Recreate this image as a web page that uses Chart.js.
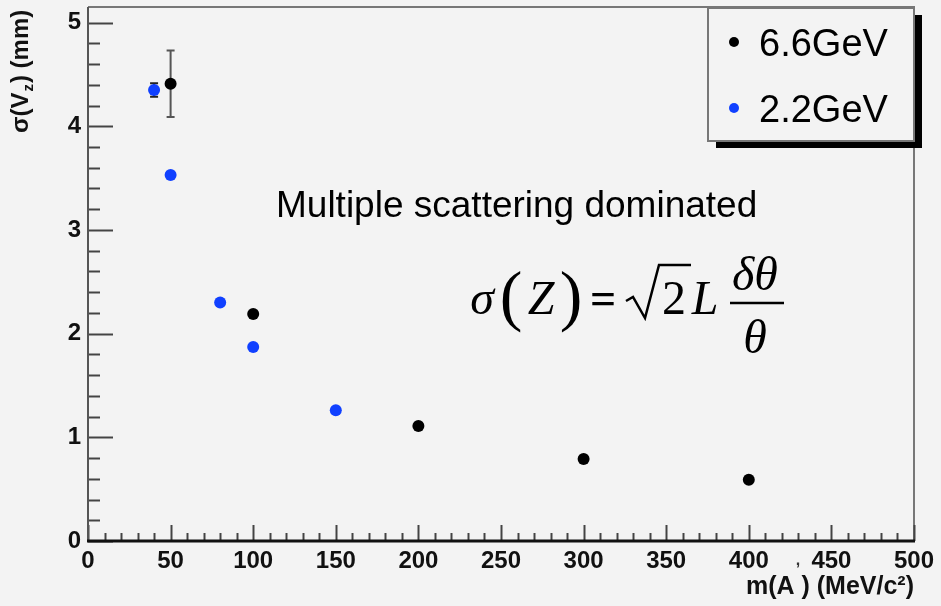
<!DOCTYPE html>
<html>
<head>
<meta charset="utf-8">
<script src="https://cdn.jsdelivr.net/npm/chart.js@4/dist/chart.umd.min.js"></script>
<style>
  html, body { margin: 0; padding: 0; background: #f3f3f3; }
  #wrap { width: 941px; height: 606px; }
</style>
</head>
<body>
<div id="wrap"><canvas id="c" width="941" height="606"></canvas></div>
<script>
// Vertex resolution versus A' mass, two beam energies
const massA_66 = [50, 100, 200, 300, 400];
const sigma_66 = [4.41, 2.19, 1.11, 0.79, 0.59];
const error_66 = [0.32, 0, 0, 0, 0];

const massA_22 = [40, 50, 80, 100, 150];
const sigma_22 = [4.35, 3.53, 2.30, 1.87, 1.26];
const error_22 = [0.065, 0, 0, 0, 0];

const seriesNames = ['6.6GeV', '2.2GeV'];
const xTickStep = 50, xMinorStep = 10, xMin = 0, xMax = 500;
const yTickStep = 1, yMinorStep = 0.2, yMin = 0, yMax = 5.15;

const toPoints = (xs, ys) => xs.map((x, i) => ({ x: x, y: ys[i] }));

// ROOT-style frame, inward ticks, error bars, legend box and annotations
const rootStyle = {
  id: 'rootStyle',
  beforeDatasetsDraw(chart) {
    const { ctx, chartArea: a, scales: { x, y } } = chart;
    ctx.save();
    // frame
    ctx.strokeStyle = '#777';
    ctx.lineWidth = 2;
    ctx.beginPath();
    ctx.moveTo(a.left, a.top); ctx.lineTo(a.right, a.top); ctx.lineTo(a.right, a.bottom);
    ctx.stroke();
    // inward ticks
    ctx.strokeStyle = '#444';
    ctx.lineWidth = 2;
    const xMajorLen = 16, xMinorLen = 8, yMajorLen = 25, yMinorLen = 12;
    for (let v = xMin; v <= xMax + 1e-9; v += xMinorStep) {
      const px = Math.round(x.getPixelForValue(v)) + 0.5;
      const major = Math.abs(v / xTickStep - Math.round(v / xTickStep)) < 1e-6;
      ctx.beginPath();
      ctx.moveTo(px, a.bottom);
      ctx.lineTo(px, a.bottom - (major ? xMajorLen : xMinorLen));
      ctx.stroke();
    }
    for (let v = yMin; v <= yMax + 1e-9; v += yMinorStep) {
      const py = Math.round(y.getPixelForValue(v)) + 0.5;
      const major = Math.abs(v / yTickStep - Math.round(v / yTickStep)) < 1e-6;
      ctx.beginPath();
      ctx.moveTo(a.left, py);
      ctx.lineTo(a.left + (major ? yMajorLen : yMinorLen), py);
      ctx.stroke();
    }
    // axes
    ctx.strokeStyle = '#555';
    ctx.lineWidth = 2;
    ctx.beginPath(); ctx.moveTo(a.left, a.top); ctx.lineTo(a.left, a.bottom); ctx.stroke();
    ctx.strokeStyle = '#111';
    ctx.lineWidth = 3;
    ctx.beginPath(); ctx.moveTo(a.left - 1, a.bottom); ctx.lineTo(a.right + 1, a.bottom); ctx.stroke();

    // error bars
    chart.data.datasets.forEach((ds) => {
      const errs = ds.errors || [];
      ds.data.forEach((p, i) => {
        const e = errs[i] || 0;
        if (!e) return;
        const px = x.getPixelForValue(p.x);
        const top = y.getPixelForValue(p.y + e);
        const bot = y.getPixelForValue(p.y - e);
        ctx.strokeStyle = ds.errorColor;
        ctx.lineWidth = 2;
        ctx.beginPath();
        ctx.moveTo(px, top); ctx.lineTo(px, bot);
        ctx.moveTo(px - 4, top); ctx.lineTo(px + 4, top);
        ctx.moveTo(px - 4, bot); ctx.lineTo(px + 4, bot);
        ctx.stroke();
      });
    });
    ctx.restore();
  },
  afterDatasetsDraw(chart) {
    const { ctx } = chart;
    ctx.save();
    // legend box with drop shadow
    const L = { x: 708, y: 8, w: 206, h: 133 };
    ctx.fillStyle = '#000';
    ctx.fillRect(L.x + 8, L.y + 7, L.w, L.h);
    ctx.fillStyle = '#f3f3f3';
    ctx.fillRect(L.x, L.y, L.w, L.h);
    ctx.strokeStyle = '#777';
    ctx.lineWidth = 2;
    ctx.strokeRect(L.x, L.y, L.w, L.h);
    ctx.font = '38px "Liberation Sans", Arial, sans-serif';
    ctx.textBaseline = 'middle';
    ctx.textAlign = 'left';
    const rows = [45, 111];
    chart.data.datasets.forEach((ds, i) => {
      ctx.fillStyle = ds.backgroundColor;
      ctx.beginPath();
      ctx.arc(734, rows[i] - 3, 5, 0, Math.PI * 2);
      ctx.fill();
      ctx.fillStyle = '#000';
      ctx.fillText(ds.label, 759, rows[i] + 1);
    });

    // annotation
    ctx.fillStyle = '#000';
    ctx.textBaseline = 'alphabetic';
    ctx.font = '37px "Liberation Sans", Arial, sans-serif';
    ctx.fillText('Multiple scattering dominated', 276, 217);

    // formula: sigma(Z) = sqrt(2) L dtheta/theta
    ctx.textAlign = 'center';
    ctx.font = 'italic 48px "Liberation Serif", "Times New Roman", serif';
    ctx.fillText('σ', 482, 314);
    ctx.fillText('Z', 541, 314);
    ctx.fillText('L', 705, 314);
    ctx.fillText('δθ', 755, 290);
    ctx.fillText('θ', 755, 353);
    ctx.font = '68px "Liberation Serif", "Times New Roman", serif';
    ctx.fillText('(', 511, 318);
    ctx.fillText(')', 571, 318);
    ctx.font = 'bold 46px "Liberation Serif", "Times New Roman", serif';
    ctx.fillText('=', 603, 314);
    ctx.font = '48px "Liberation Serif", "Times New Roman", serif';
    ctx.fillText('2', 674, 314);
    ctx.strokeStyle = '#000';
    ctx.lineWidth = 2.5;
    ctx.lineJoin = 'miter';
    ctx.beginPath();
    ctx.moveTo(626, 301); ctx.lineTo(633, 297); ctx.lineTo(645, 318);
    ctx.lineTo(659, 265); ctx.lineTo(691, 265);
    ctx.stroke();
    ctx.lineWidth = 2.5;
    ctx.beginPath(); ctx.moveTo(730, 303); ctx.lineTo(784, 303); ctx.stroke();

    // y-axis title with subscript
    ctx.translate(28, 133);
    ctx.rotate(-Math.PI / 2);
    ctx.textAlign = 'left';
    ctx.fillStyle = '#111';
    ctx.font = 'bold 24px "Liberation Sans", Arial, sans-serif';
    let cx = 0;
    ctx.fillText('σ(V', cx, 0); cx += ctx.measureText('σ(V').width;
    ctx.font = 'bold 15px "Liberation Sans", Arial, sans-serif';
    ctx.fillText('z', cx + 1, 5); cx += ctx.measureText('z').width + 2;
    ctx.font = 'bold 24px "Liberation Sans", Arial, sans-serif';
    ctx.fillText(') (mm)', cx, 0);
    ctx.setTransform(1, 0, 0, 1, 0, 0);

    // prime of the x-axis title
    ctx.font = 'bold 16px "Liberation Sans", Arial, sans-serif';
    ctx.fillStyle = '#333';
    ctx.textAlign = 'center';
    ctx.fillText(',', 798, 565);
    ctx.restore();
  }
};

new Chart(document.getElementById('c'), {
  type: 'scatter',
  data: {
    datasets: [
      {
        label: seriesNames[0],
        data: toPoints(massA_66, sigma_66),
        errors: error_66,
        errorColor: '#555',
        backgroundColor: '#000',
        borderColor: '#000',
        pointRadius: 6,
        pointHoverRadius: 6,
        borderWidth: 0
      },
      {
        label: seriesNames[1],
        data: toPoints(massA_22, sigma_22),
        errors: error_22,
        errorColor: '#222',
        backgroundColor: '#1040ff',
        borderColor: '#1040ff',
        pointRadius: 6,
        pointHoverRadius: 6,
        borderWidth: 0
      }
    ]
  },
  options: {
    responsive: false,
    animation: false,
    events: [],
    layout: { padding: { top: 7, right: 27, left: 0, bottom: 0 } },
    plugins: { legend: { display: false }, tooltip: { enabled: false } },
    scales: {
      x: {
        type: 'linear',
        min: xMin, max: xMax,
        afterFit: (s) => { s.height = 65; s.paddingLeft = 0; s.paddingRight = 0; },
        grid: { display: false, drawTicks: false },
        border: { display: false },
        ticks: {
          stepSize: xTickStep,
          autoSkip: false,
          maxRotation: 0,
          padding: 6,
          color: '#111',
          font: { family: '"Liberation Sans", Arial, sans-serif', size: 24, weight: 'bold' }
        },
        title: {
          display: true,
          text: 'm(A ) (MeV/c²)',
          align: 'end',
          color: '#111',
          padding: { top: 0, bottom: 4 },
          font: { family: '"Liberation Sans", Arial, sans-serif', size: 25, weight: 'bold' }
        }
      },
      y: {
        type: 'linear',
        min: yMin, max: yMax,
        afterFit: (s) => { s.width = 88; s.paddingTop = 0; s.paddingBottom = 0; },
        grid: { display: false, drawTicks: false },
        border: { display: false },
        ticks: {
          stepSize: yTickStep,
          includeBounds: false,
          autoSkip: false,
          padding: 7,
          color: '#111',
          font: { family: '"Liberation Sans", Arial, sans-serif', size: 24, weight: 'bold' }
        }
      }
    }
  },
  plugins: [rootStyle]
});
</script>
</body>
</html>
